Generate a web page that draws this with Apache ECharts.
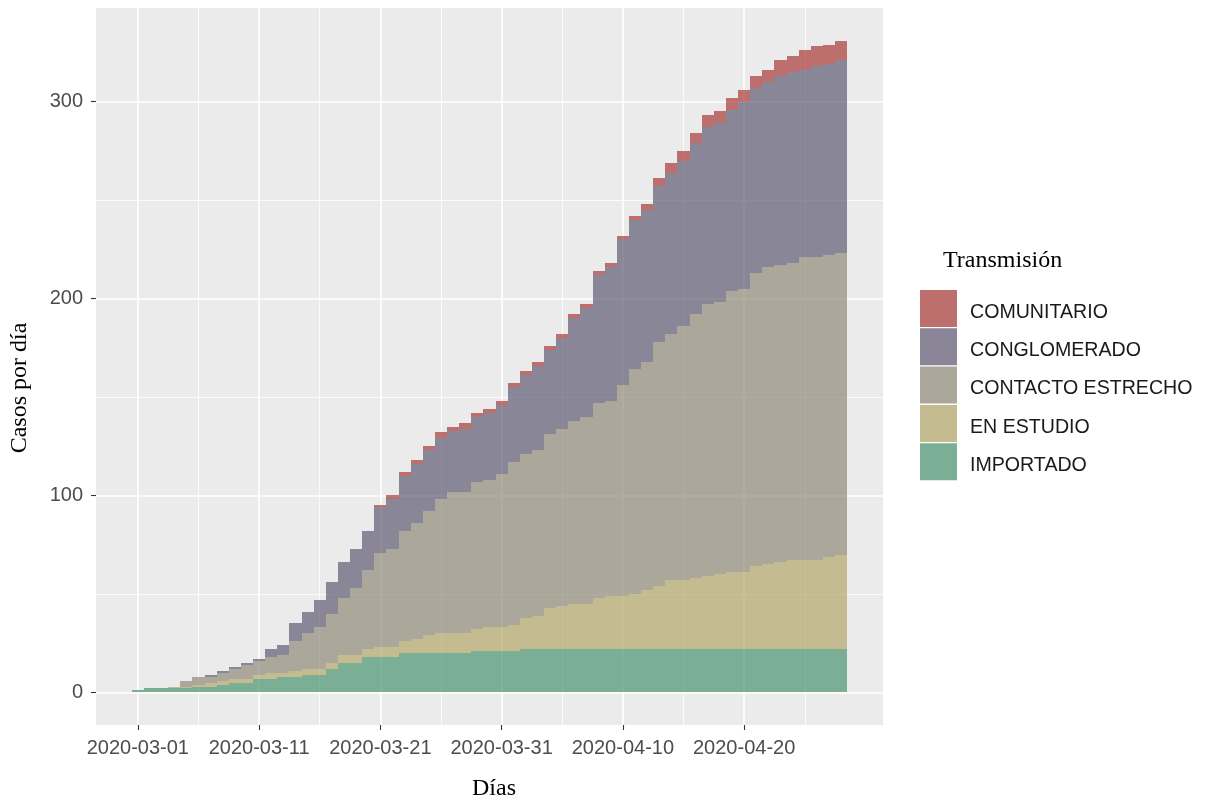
<!DOCTYPE html>
<html>
<head>
<meta charset="utf-8">
<script src="https://cdn.jsdelivr.net/npm/echarts@6/dist/echarts.min.js"></script>
<style>
html,body{margin:0;padding:0;background:#ffffff;}
#chart{width:1209px;height:804px;}
</style>
</head>
<body>
<div id="chart"></div>
<script>
// ---------------- DATA ----------------
const startDate = '2020-03-01';            // day 0
const categories = ['COMUNITARIO', 'CONGLOMERADO', 'CONTACTO ESTRECHO', 'EN ESTUDIO', 'IMPORTADO'];
const tickDays = [0, 10, 20, 30, 40, 50];
const tickLabels = ['2020-03-01', '2020-03-11', '2020-03-21', '2020-03-31', '2020-04-10', '2020-04-20'];
const minorTickDays = [5, 15, 25, 35, 45, 55];
const yTicks = [0, 100, 200, 300];
const yMinorTicks = [50, 150, 250];

// daily cumulative counts by transmission type (day 0 = 2020-03-01 ... day 58 = 2020-04-28)
const importado = [1,2,2,2,2,3,3,4,5,5, 7,7,8,8,9,9,12,15,15,18, 18,18,20,20,20,20,20,20,21,21,
  21,21,22,22,22,22,22,22,22,22, 22,22,22,22,22,22,22,22,22,22, 22,22,22,22,22,22,22,22,22];
const enEstudio = [0,0,0,1,1,1,2,2,2,2, 2,3,2,3,3,3,3,4,4,4, 5,5,6,7,9,10,10,10,11,12,
  12,13,16,17,21,22,23,23,26,27, 27,28,30,32,35,35,36,37,38,39, 39,42,43,44,45,45,45,47,48];
const contacto = [0,0,0,0,3,4,3,4,5,7, 7,8,9,15,18,21,25,29,34,40, 48,50,56,59,63,68,72,72,75,75,
  78,83,83,84,88,90,93,95,99,99, 107,114,116,124,125,129,134,138,138,143, 144,149,151,151,151,154,154,153,153];
const conglomerado = [0,0,0,0,0,0,1,1,1,1, 1,4,5,9,11,14,16,18,20,20, 23,25,28,30,31,31,31,32,33,34,
  35,38,40,43,43,46,52,55,65,68, 74,76,77,79,82,84,87,90,91,92, 95,94,94,96,97,95,97,97,98];
const comunitario = [0,0,0,0,0,0,0,0,0,0, 0,0,0,0,0,0,0,0,0,0, 1,2,2,2,2,3,2,3,2,2,
  2,2,2,2,2,2,2,2,2,2, 2,2,3,4,5,5,5,6,6,6, 6,6,6,8,8,10,10,10,10];

// ---------------- STYLE ----------------
const fillColors = {
  'COMUNITARIO': 'rgba(169,58,56,0.7)',
  'CONGLOMERADO': 'rgba(96,91,116,0.7)',
  'CONTACTO ESTRECHO': 'rgba(144,139,121,0.7)',
  'EN ESTUDIO': 'rgba(181,166,106,0.7)',
  'IMPORTADO': 'rgba(74,148,112,0.7)'
};
const keyColors = {
  'COMUNITARIO': '#BD6F6E',
  'CONGLOMERADO': '#8A8698',
  'CONTACTO ESTRECHO': '#ABA89B',
  'EN ESTUDIO': '#C5BB91',
  'IMPORTADO': '#7AAE95'
};
const SANS = '"Liberation Sans", Arial, sans-serif';
const SERIF = '"Liberation Serif", "Times New Roman", serif';
const legendLeft = 920, legendTop = 290, keySize = 37, keyGap = 1.3;

// stack order bottom -> top
const stackOrder = [
  ['IMPORTADO', importado],
  ['EN ESTUDIO', enEstudio],
  ['CONTACTO ESTRECHO', contacto],
  ['CONGLOMERADO', conglomerado],
  ['COMUNITARIO', comunitario]
];
const nDays = importado.length;
const base = new Array(nDays).fill(0);
const seriesRows = {};
stackOrder.forEach(([name, vals]) => {
  seriesRows[name] = vals.map((v, i) => {
    const row = [i, base[i], base[i] + v];
    base[i] += v;
    return row;
  });
});
const maxTotal = Math.max.apply(null, base);
const xLo = -0.5, xHi = nDays - 0.5;
const xPad = 0.05 * (xHi - xLo);
const yPad = 0.05 * maxTotal;

function renderStep(params, api) {
  const i = api.value(0), lo = api.value(1), hi = api.value(2);
  if (hi <= lo) return null;
  const p0 = api.coord([i - 0.5, hi]);
  const p1 = api.coord([i + 0.5, lo]);
  const x0 = Math.round(p0[0]), x1 = Math.round(p1[0]);
  const y0 = Math.round(p0[1]), y1 = Math.round(p1[1]);
  return {
    type: 'rect',
    shape: { x: x0, y: y0, width: x1 - x0, height: y1 - y0 },
    style: { fill: api.visual('color') }
  };
}

const series = stackOrder.map(([name]) => ({
  name: name,
  type: 'custom',
  xAxisIndex: 0,
  yAxisIndex: 0,
  renderItem: renderStep,
  itemStyle: { color: fillColors[name] },
  encode: { x: 0, y: [1, 2] },
  data: seriesRows[name],
  silent: true
}));

// legend labels (placed beside the legend keys)
const legendLabels = categories.map((c, i) => ({
  type: 'text',
  x: legendLeft + keySize + 13,
  y: legendTop + keySize / 2 + 3.8 + i * (keySize + keyGap),
  style: { text: c, font: '19.6px ' + SANS, fill: '#1A1A1A', textAlign: 'left', textVerticalAlign: 'middle' }
}));

const chart = echarts.init(document.getElementById('chart'), null, { renderer: 'canvas' });
chart.setOption({
  animation: false,
  backgroundColor: '#ffffff',
  grid: {
    left: 96, right: 326, top: 8, bottom: 79,
    show: true, backgroundColor: '#EBEBEB', borderWidth: 0
  },
  title: {
    text: 'Transmisión', left: 943, top: 249, padding: 0,
    textStyle: { fontFamily: SERIF, fontSize: 24, fontWeight: 'normal', color: '#000000' }
  },
  legend: {
    orient: 'vertical', left: legendLeft, top: legendTop, padding: 0,
    itemWidth: keySize, itemHeight: keySize, itemGap: keyGap,
    icon: 'rect', selectedMode: false,
    formatter: () => '',
    data: categories.map(c => ({ name: c, itemStyle: { color: keyColors[c], borderWidth: 0 } })),
    textStyle: { fontFamily: SANS, fontSize: 19.6, color: '#1A1A1A' }
  },
  xAxis: [
    {
      type: 'value', min: xLo - xPad, max: xHi + xPad, position: 'bottom',
      axisLine: { show: false, onZero: false },
      axisTick: { show: true, customValues: tickDays, length: 5, lineStyle: { color: '#333333', width: 1.1 } },
      axisLabel: {
        show: true, customValues: tickDays,
        formatter: v => tickLabels[tickDays.indexOf(v)],
        color: '#4D4D4D', fontSize: 20, fontFamily: SANS, margin: 13, lineHeight: 20
      },
      splitLine: { show: true, lineStyle: { color: '#FFFFFF', width: 1.6 } }
    },
    {
      type: 'value', min: xLo - xPad, max: xHi + xPad, position: 'bottom',
      axisLine: { show: false, onZero: false },
      axisTick: { show: false, customValues: minorTickDays },
      axisLabel: { show: false, customValues: minorTickDays },
      splitLine: { show: true, lineStyle: { color: '#FFFFFF', width: 0.8 } }
    }
  ],
  yAxis: [
    {
      type: 'value', min: -yPad, max: maxTotal + yPad, position: 'left',
      axisLine: { show: false, onZero: false },
      axisTick: { show: true, customValues: yTicks, length: 5, lineStyle: { color: '#333333', width: 1.1 } },
      axisLabel: { show: true, customValues: yTicks, color: '#4D4D4D', fontSize: 20, fontFamily: SANS, margin: 13 },
      splitLine: { show: true, lineStyle: { color: '#FFFFFF', width: 1.6 } }
    },
    {
      type: 'value', min: -yPad, max: maxTotal + yPad, position: 'left',
      axisLine: { show: false, onZero: false },
      axisTick: { show: false, customValues: yMinorTicks },
      axisLabel: { show: false, customValues: yMinorTicks },
      splitLine: { show: true, lineStyle: { color: '#FFFFFF', width: 0.8 } }
    }
  ],
  graphic: [
    {
      type: 'text', x: 494, y: 789,
      style: { text: 'Días', font: '24px ' + SERIF, fill: '#000000', textAlign: 'center', textVerticalAlign: 'middle' }
    },
    {
      type: 'text', x: 20, y: 388, rotation: Math.PI / 2,
      style: { text: 'Casos por día', font: '24px ' + SERIF, fill: '#000000', textAlign: 'center', textVerticalAlign: 'middle' }
    }
  ].concat(legendLabels),
  series: series
});
</script>
</body>
</html>
